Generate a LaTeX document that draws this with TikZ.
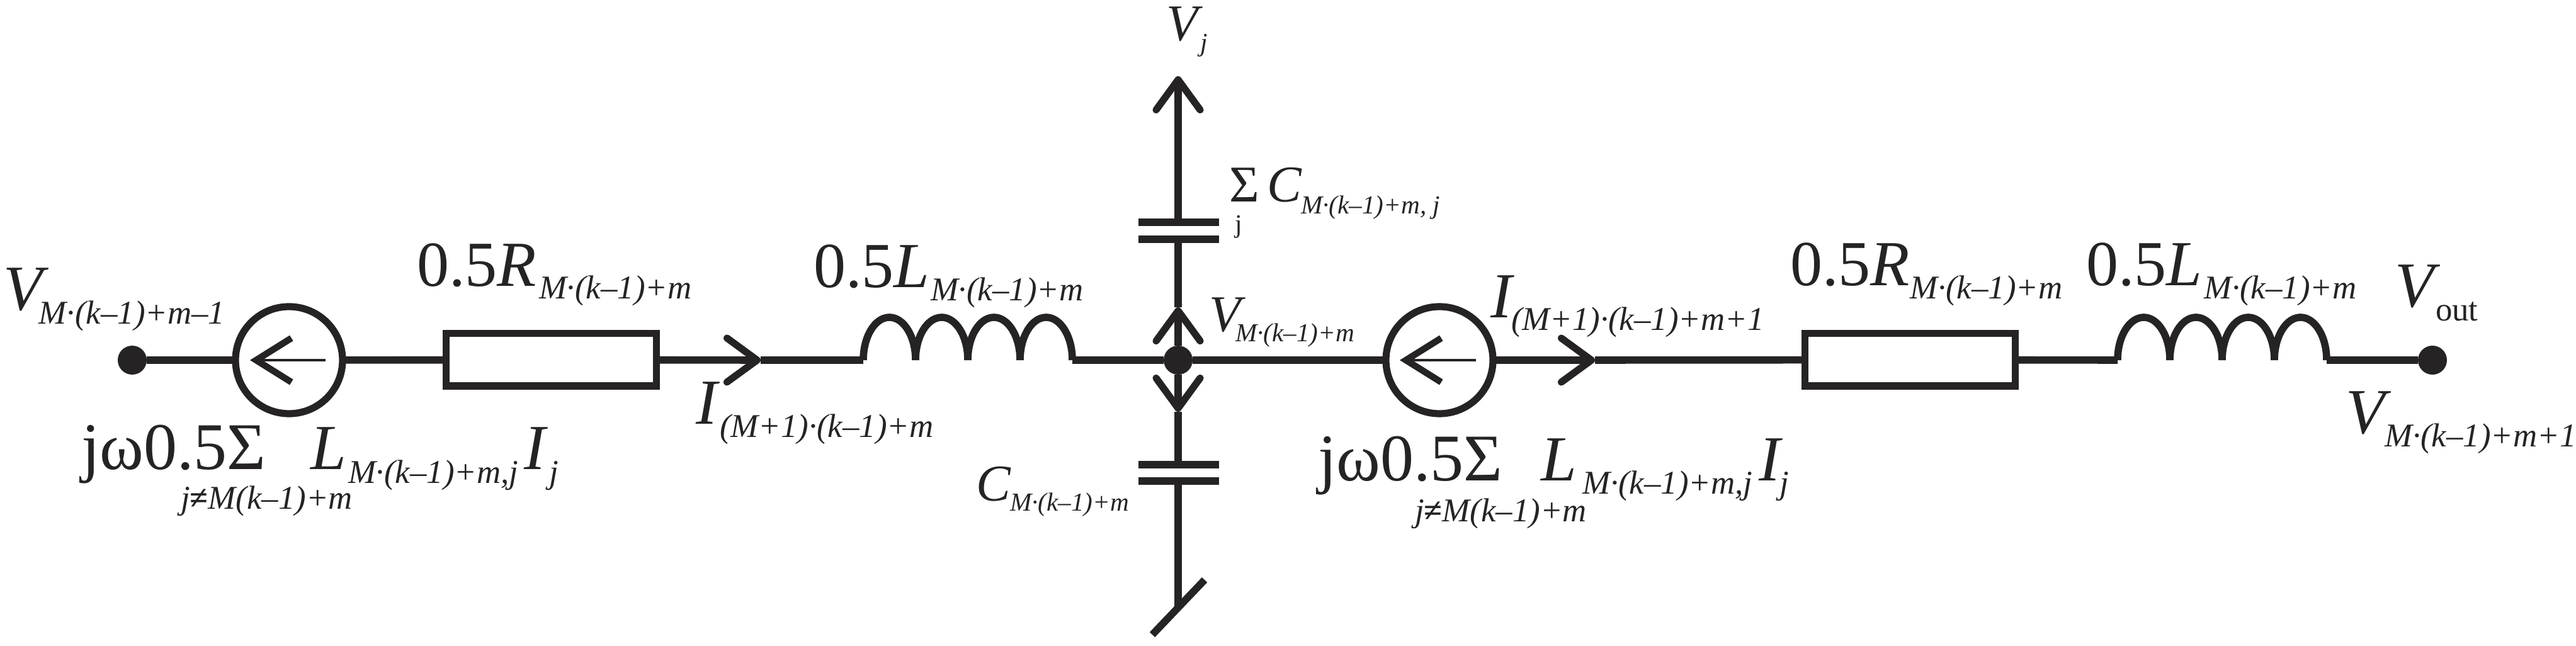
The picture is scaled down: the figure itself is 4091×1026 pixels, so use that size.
\documentclass[tikz,border=0pt]{standalone}
\usepackage{fontspec}
\setmainfont{Liberation Serif}
\usetikzlibrary{arrows.meta}
\definecolor{ink}{HTML}{262324}
\newcommand{\bigi}{\fontsize{25.5pt}{28pt}\selectfont\itshape}
\newcommand{\midi}{\fontsize{20.5pt}{22pt}\selectfont\itshape}
\tikzset{
  x=0.25pt,y=-0.25pt,
  wire/.style={draw=ink,line width=2.9pt,line cap=butt},
  plate/.style={draw=ink,line width=2.8pt},
  dotnode/.style={circle,fill=ink,draw=none,minimum size=11.5pt,inner sep=0pt,outer sep=0pt},
  srcnode/.style={circle,draw=ink,line width=2.8pt,minimum size=42.5pt,inner sep=0pt,outer sep=0pt},
  resnode/.style={rectangle,draw=ink,line width=2.8pt,minimum width=83.5pt,minimum height=20.8pt,inner sep=0pt,outer sep=0pt},
  chev/.style={-{Straight Barb[length=12pt,width=17.5pt,line width=2.8pt,round=false]}},
  thinchev/.style={draw=ink,line width=0.9pt,-{Straight Barb[length=14pt,width=17.5pt,line width=2.6pt]}},
  txt/.style={anchor=base west,inner sep=0pt,outer sep=0pt,text=ink},
  big/.style={txt,font=\fontsize{25.5pt}{28pt}\selectfont},
  bigit/.style={txt,font=\bigi},
  sub/.style={txt,font=\fontsize{13.2pt}{15pt}\selectfont\itshape},
  mid/.style={txt,font=\fontsize{20.5pt}{22pt}\selectfont},
  midit/.style={txt,font=\midi},
  small/.style={txt,font=\fontsize{10.3pt}{12pt}\selectfont\itshape}
}
\def\humpseg{.. controls +(0,-37.6) and +(-22.9,0) .. ++(41.5,-68) .. controls +(22.9,0) and +(0,-37.6) .. ++(41.5,68)}
\begin{document}
\begin{tikzpicture}
\path[use as bounding box,fill=white] (0,0) rectangle (4091,1026);
% components
\node[dotnode] (dotL) at (210,572) {};
\node[srcnode] (srcL) at (459,572) {};
\node[resnode] (resL) at (875.5,571.5) {};
\coordinate (tipL) at (1208,572);
\coordinate (indLa) at (1371,572);
\coordinate (indLb) at (1703,572);
\node[dotnode] (dotC) at (1871,572) {};
\node[srcnode] (srcR) at (2286,572) {};
\coordinate (tipR) at (2533,572);
\node[resnode] (resR) at (3033.5,571.5) {};
\coordinate (indRa) at (3363,572);
\coordinate (indRb) at (3695,572);
\node[dotnode] (dotR) at (3863,572) {};
% horizontal wires
\draw[wire] (dotL) -- (srcL);
\draw[wire] (srcL) -- (resL);
\draw[wire,chev] (resL) -- (tipL);
\draw[wire] (tipL) -- (indLa);
\draw[wire] (indLb) -- (dotC);
\draw[wire] (dotC) -- (srcR);
\draw[wire,chev] (srcR) -- (tipR);
\draw[wire] (tipR) -- (resR);
\draw[wire] (resR) -- (indRa);
\draw[wire] (indRb) -- (dotR);
% inductors
\draw[wire,line join=miter] (indLa) \humpseg \humpseg \humpseg \humpseg;
\draw[wire,line join=miter] (indRa) \humpseg \humpseg \humpseg \humpseg;
% source arrows
\coordinate (tailL) at (517,572); \coordinate (headL) at (397,572);
\coordinate (tailR) at (2344,572); \coordinate (headR) at (2223,572);
\draw[thinchev] (tailL) -- (headL);
\draw[thinchev] (tailR) -- (headR);
% vertical branch up
\coordinate (upTip) at (1871,488);
\coordinate (capU1a) at (1808,380); \coordinate (capU1b) at (1936,380);
\coordinate (capU1) at (1871,380);
\coordinate (capU2a) at (1808,353); \coordinate (capU2b) at (1936,353);
\coordinate (capU2) at (1871,353);
\coordinate (vTop) at (1871,121);
\draw[wire,chev] (dotC) -- (upTip);
\draw[wire] (upTip) -- (capU1);
\draw[plate] (capU1a) -- (capU1b);
\draw[plate] (capU2a) -- (capU2b);
\draw[wire,chev] (capU2) -- (vTop);
% vertical branch down
\coordinate (dnTip) at (1871,654);
\coordinate (capD1a) at (1808,738); \coordinate (capD1b) at (1936,738);
\coordinate (capD1) at (1871,738);
\coordinate (capD2a) at (1808,764); \coordinate (capD2b) at (1936,764);
\coordinate (capD2) at (1871,764);
\coordinate (gnd) at (1871,965);
\coordinate (gndA) at (1830,1008); \coordinate (gndB) at (1913,921);
\draw[wire,chev] (dotC) -- (dnTip);
\draw[wire] (dnTip) -- (capD1);
\draw[plate] (capD1a) -- (capD1b);
\draw[plate] (capD2a) -- (capD2b);
\draw[wire] (capD2) -- (gnd);
\draw[wire] (gndA) -- (gndB);
% labels
\node[bigit] (t1) at (6,493) {V};
\node[sub] (t1s) at (62,515) {M·(k–1)+m–1};
\node[big] (t2) at (662,455) {0.5\textit{R}};
\node[sub] (t2s) at (856,475) {M·(k–1)+m};
\node[big] (t3) at (1292,457) {0.5\textit{L}};
\node[sub] (t3s) at (1478,478) {M·(k–1)+m};
\node[bigit] (t4) at (1105,673) {I};
\node[sub] (t4s) at (1143,695) {(M+1)·(k–1)+m};
\node[big,font=\fontsize{26.5pt}{28pt}\selectfont] (t5) at (129,745) {jω0.5Σ};
\node[bigit] (t5L) at (493,745) {L};
\node[sub] (t5Ls) at (553,767) {M·(k–1)+m,j};
\node[bigit] (t5I) at (832,745) {I};
\node[sub] (t5Is) at (872,767) {j};
\node[sub] (t5j) at (287,808) {j\textup{\textbf{≠}}M(k–1)+m};
\node[midit] (t6) at (1852,65) {V};
\node[small] (t6s) at (1906,82) {j};
\node[mid] (t7) at (1952,321) {Σ};
\node[small,font=\fontsize{10.3pt}{12pt}\selectfont] (t7j) at (1961,370) {j};
\node[midit] (t7C) at (2012,321) {C};
\node[small] (t7s) at (2066,340) {M·(k–1)+m, j};
\node[midit] (t8) at (1920,527) {V};
\node[small] (t8s) at (1962,542) {M·(k–1)+m};
\node[midit] (t9) at (1550,795) {C};
\node[small] (t9s) at (1604,811) {M·(k–1)+m};
\node[bigit] (t10) at (2367,505) {I};
\node[sub] (t10s) at (2400,525) {(M+1)·(k–1)+m+1};
\node[big,font=\fontsize{26.5pt}{28pt}\selectfont] (t11) at (2093,763) {jω0.5Σ};
\node[bigit] (t11L) at (2447,763) {L};
\node[sub] (t11Ls) at (2513,785) {M·(k–1)+m,j};
\node[bigit] (t11I) at (2793,763) {I};
\node[sub] (t11Is) at (2826,785) {j};
\node[sub] (t11j) at (2247,828) {j\textup{\textbf{≠}}M(k–1)+m};
\node[big] (t12) at (2843,454) {0.5\textit{R}};
\node[sub] (t12s) at (3033,475) {M·(k–1)+m};
\node[big] (t13) at (3313,454) {0.5\textit{L}};
\node[sub] (t13s) at (3500,475) {M·(k–1)+m};
\node[bigit] (t14) at (3803,488) {V};
\node[sub,font=\fontsize{13.2pt}{15pt}\selectfont] (t14s) at (3868,510) {out};
\node[bigit] (t15) at (3725,688) {V};
\node[sub] (t15s) at (3787,710) {M·(k–1)+m+1};
\end{tikzpicture}
\end{document}
